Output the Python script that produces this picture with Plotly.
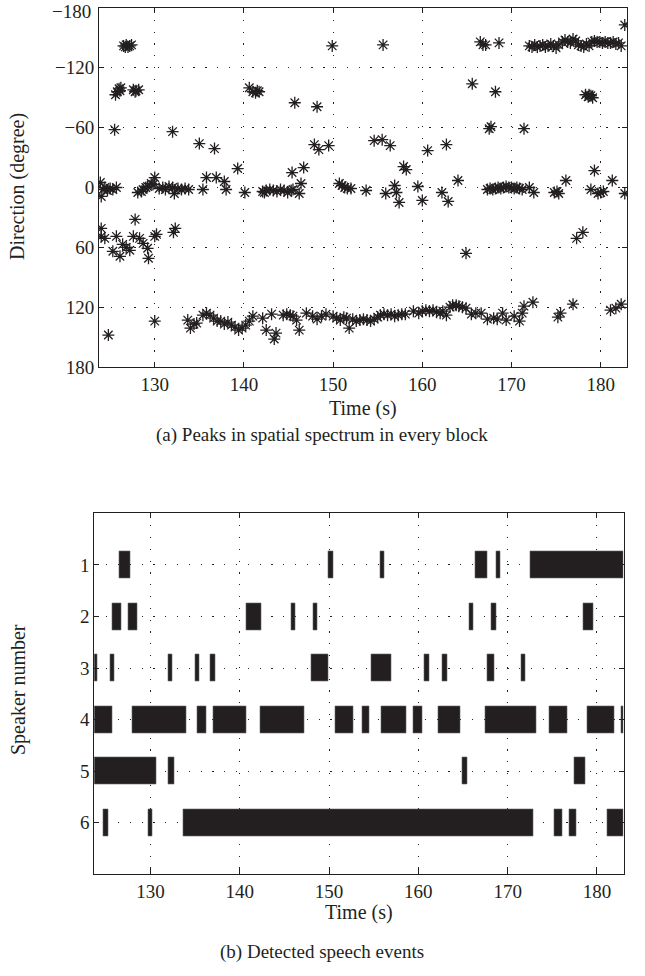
import plotly.graph_objects as go

# ---------------- (a) peaks in spatial spectrum ----------------
peak_time = [
    # around -140 deg
    126.5, 126.8, 127.0, 127.2, 126.7, 127.4, 149.9, 155.6, 166.5, 166.8, 167.1, 168.6,
    172.0, 172.3, 172.6, 172.9, 173.2, 173.5, 173.8, 174.1, 174.4, 174.7, 175.0, 175.3,
    175.7, 176.0, 176.3, 176.6, 176.9, 177.2, 177.5, 177.8, 178.1, 178.4, 178.7, 179.0,
    179.3, 179.6, 179.9, 180.2, 180.5, 180.8, 181.1, 181.4, 181.7, 182.0, 182.3, 182.7,
    # around -100 deg
    125.6, 125.8, 126.0, 126.2, 126.1, 127.6, 127.9, 128.2, 127.8, 140.6, 141.0, 141.3,
    141.7, 141.5, 145.7, 148.2, 165.6, 168.2, 178.3, 178.6, 178.9, 179.1, 178.7,
    # -60 .. -10 deg
    125.5, 132.0, 135.0, 136.7, 139.3, 147.9, 148.4, 149.5, 145.4, 146.7, 154.6, 155.5,
    156.4, 157.9, 158.2, 160.6, 162.7, 167.7, 167.5, 171.4, 164.0, 176.1, 179.3, 181.3,
    # around 0 deg
    123.9, 124.0, 124.2, 124.4, 124.7, 125.0, 125.3, 125.7, 128.1, 128.5, 128.7, 129.0,
    129.2, 129.6, 130.0, 129.8, 130.5, 130.9, 131.2, 131.6, 132.0, 132.2, 132.6, 133.0,
    133.4, 133.8, 135.4, 135.8, 136.9, 137.8, 138.0, 140.1, 142.3, 142.1, 142.5, 142.9,
    143.3, 143.7, 144.1, 144.5, 144.9, 145.3, 145.5, 146.2, 146.4, 150.7, 151.0, 151.3,
    151.6, 152.0, 153.7, 155.9, 156.9, 157.1, 157.4, 159.5, 160.0, 162.2, 162.9, 167.3,
    167.6, 167.9, 168.2, 168.5, 168.8, 169.1, 169.4, 169.7, 170.0, 170.3, 170.6, 170.9,
    171.2, 172.0, 172.5, 174.8, 175.1, 175.3, 178.9, 180.0, 180.3, 179.7, 182.7,
    # 30 .. 70 deg
    124.0, 124.0, 124.4, 125.3, 126.1, 125.7, 126.4, 126.8, 127.2, 127.6, 127.8, 128.3,
    128.7, 129.2, 129.3, 130.0, 130.2, 132.1, 132.3, 164.9, 177.3, 178.0,
    # 115 .. 155 deg
    124.8, 130.0, 133.7, 134.0, 134.4, 134.7, 135.4, 135.8, 136.2, 136.6, 137.0, 137.4,
    137.8, 138.2, 138.6, 139.0, 139.4, 139.8, 140.2, 140.6, 141.0, 142.1, 142.5, 143.1,
    143.6, 143.4, 144.4, 144.8, 145.2, 145.5, 145.9, 146.2, 147.0, 147.7, 148.2, 148.7,
    149.2, 150.0, 150.4, 150.8, 151.2, 151.5, 151.8, 152.2, 152.6, 153.0, 153.4, 153.8,
    154.2, 154.6, 155.0, 155.3, 155.7, 156.1, 156.5, 156.9, 157.3, 157.7, 158.1, 159.0,
    159.6, 160.0, 160.4, 160.8, 161.2, 161.6, 162.0, 162.3, 162.7, 163.1, 163.4, 163.8,
    164.1, 164.5, 164.9, 165.5, 166.0, 166.6, 167.3, 168.0, 168.4, 169.0, 169.4, 170.3,
    170.9, 171.2, 171.4, 172.4, 175.2, 175.5, 176.9, 181.1, 181.7, 182.3,
]
peak_dir = [
    -142, -143, -141, -142, -141, -143, -142, -143, -146, -143, -143, -145,
    -142, -141, -143, -141, -142, -143, -141, -142, -144, -142, -140, -143,
    -146, -148, -146, -145, -149, -147, -143, -142, -141, -144, -142, -146,
    -147, -146, -146, -145, -146, -145, -145, -146, -144, -145, -142, -163,
    -93, -96, -99, -100, -97, -98, -97, -98, -96, -100, -96, -95,
    -96, -97, -85, -81, -104, -96, -93, -91, -92, -90, -93,
    -58, -56, -44, -39, -19, -43, -38, -42, -15, -20, -47, -48,
    -42, -21, -18, -37, -43, -61, -59, -59, -7, -7, -17, -7,
    -5, 9, 2, 0, 3, 1, 2, 0, 5, 4, 2, 0,
    -1, -4, -10, -3, 1, 0, 2, -1, 0, 6, 1, 2,
    1, 2, 2, -10, -10, -6, 2, 5, 5, 4, 3, 2,
    3, 4, 2, 3, 5, 3, 2, 6, -4, -4, -2, 0,
    1, 1, 3, 6, -2, 5, 15, -1, 13, 5, 14, 2,
    1, 2, 1, 0, 1, 0, -1, 0, 0, 1, 0, 1,
    2, 0, 5, 5, 4, 6, 2, 5, 4, 6, 6,
    41, 49, 51, 64, 69, 49, 57, 60, 63, 49, 32, 51,
    56, 61, 71, 49, 47, 45, 41, 66, 51, 45,
    148, 134, 133, 141, 137, 136, 128, 126, 128, 131, 134, 134,
    137, 135, 138, 140, 143, 141, 138, 134, 129, 131, 143, 127,
    146, 152, 128, 127, 128, 129, 133, 143, 126, 129, 132, 129,
    127, 129, 131, 133, 130, 131, 141, 132, 134, 133, 132, 133,
    134, 132, 130, 128, 127, 128, 127, 129, 128, 127, 127, 124,
    126, 124, 123, 124, 123, 125, 126, 124, 128, 120, 118, 118,
    119, 120, 121, 127, 126, 126, 132, 131, 132, 126, 133, 129,
    134, 126, 119, 115, 130, 126, 117, 123, 121, 117,
]

dir_ticks = [-180, -120, -60, 0, 60, 120, 180]
dir_ticktext = ["\u2212180", "\u2212120", "\u221260", "0", "60", "120", "180"]
time_ticks = [130, 140, 150, 160, 170, 180]

# ---------------- (b) detected speech events ----------------
speakers = [1, 2, 3, 4, 5, 6]
event_speaker = [
    1, 1, 1, 1, 1, 1,
    2, 2, 2, 2, 2, 2, 2, 2,
    3, 3, 3, 3, 3, 3, 3, 3, 3, 3, 3,
    4, 4, 4, 4, 4, 4, 4, 4, 4, 4, 4, 4, 4, 4,
    5, 5, 5, 5,
    6, 6, 6, 6, 6, 6,
]
event_start = [
    126.5, 149.95, 155.7, 166.4, 168.7, 172.5,
    125.7, 127.5, 140.75, 145.75, 148.2, 165.7, 168.2, 178.45,
    123.7, 125.5, 132.0, 135.0, 136.7, 148.0, 154.7, 160.7, 162.7, 167.7, 171.5,
    123.7, 128.0, 135.2, 137.0, 142.25, 150.7, 153.7, 155.9, 159.45, 162.2, 167.45, 174.7, 178.95, 182.7,
    123.7, 132.0, 164.95, 177.45,
    124.7, 129.75, 133.7, 175.2, 176.95, 181.2,
]
event_end = [
    127.7, 150.45, 156.2, 167.7, 169.2, 183.0,
    126.75, 128.5, 142.45, 146.2, 148.7, 166.2, 168.7, 179.65,
    124.0, 125.95, 132.45, 135.45, 137.2, 149.95, 156.95, 161.2, 163.2, 168.45, 171.95,
    125.7, 133.95, 136.2, 140.7, 147.2, 152.7, 154.45, 158.7, 160.45, 164.7, 173.2, 176.7, 181.95, 183.0,
    130.7, 132.7, 165.45, 178.65,
    125.25, 130.25, 172.9, 176.15, 177.7, 183.0,
]
event_duration = [e - s for s, e in zip(event_start, event_end)]

FONT = "Liberation Serif"
INK = "#231f20"

W, H = 645, 976


def px(x):
    return x / W


def py(y):
    return 1 - y / H


fig = go.Figure()
fig.add_trace(go.Scatter(
    x=peak_time, y=peak_dir, mode="markers", xaxis="x", yaxis="y",
    marker=dict(symbol="asterisk-open", size=10, line=dict(width=1.3, color=INK), color=INK),
    showlegend=False, hoverinfo="x+y",
))
fig.add_trace(go.Bar(
    y=event_speaker, x=event_duration, base=event_start, orientation="h",
    xaxis="x2", yaxis="y2", width=0.52,
    marker=dict(color=INK, line=dict(width=0.6, color="#666")),
    showlegend=False,
))

TICKFONT = dict(family=FONT, size=19, color=INK)

axis_common = dict(
    showline=True, linecolor=INK, linewidth=1, mirror="allticks",
    ticks="inside", ticklen=5, tickcolor=INK, tickwidth=1,
    showgrid=True, gridcolor=INK, gridwidth=1, griddash="1.3px,10.5px",
    zeroline=False, automargin=False, ticklabeloverflow="allow",
    tickfont=TICKFONT,
)


def label(text, x, y, angle=0, size=20):
    return dict(text=text, x=px(x), y=py(y), xref="paper", yref="paper",
                xanchor="center", yanchor="middle", textangle=angle,
                showarrow=False, font=dict(family=FONT, size=size, color=INK))


# the top-most direction label sits against the page edge: place it as a
# top-anchored text so it stays fully inside the figure
top_label = dict(text=dir_ticktext[0], x=px(92), y=1, xref="paper", yref="paper",
                 xanchor="right", yanchor="top", showarrow=False, font=TICKFONT,
                 borderpad=0)
shown_ticktext = [""] + dir_ticktext[1:]

fig.update_layout(
    width=W, height=H,
    margin=dict(l=0, r=0, t=0, b=0),
    paper_bgcolor="white", plot_bgcolor="white",
    barmode="overlay", bargap=0,
    font=dict(family=FONT, color=INK),
    xaxis=dict(domain=[px(99), px(627)], range=[123.75, 182.95], tickvals=time_ticks,
               anchor="y", **axis_common),
    yaxis=dict(domain=[py(367), py(8)], range=[180.01, -180.01], tickvals=dir_ticks,
               ticktext=shown_ticktext, anchor="x", **axis_common),
    xaxis2=dict(domain=[px(94.3), px(623.7)], range=[123.7, 183.0], tickvals=time_ticks,
                anchor="y2", **axis_common),
    yaxis2=dict(domain=[py(874.3), py(513.3)], range=[7, 0], tickvals=speakers,
                anchor="x2", **axis_common),
    annotations=[
        top_label,
        label("Time (s)", 363, 408),
        label("(a) Peaks in spatial spectrum in every block", 322, 435, size=19),
        label("Direction (degree)", 18, 187, -90),
        label("Time (s)", 359, 912),
        label("(b) Detected speech events", 322, 952, size=19),
        label("Speaker number", 18, 690, -90),
    ],
)

# the page body default margin would shift the figure; remove it
fig.write_html("out.html", config={"displayModeBar": False},
               post_script="document.body.style.margin='0';")
